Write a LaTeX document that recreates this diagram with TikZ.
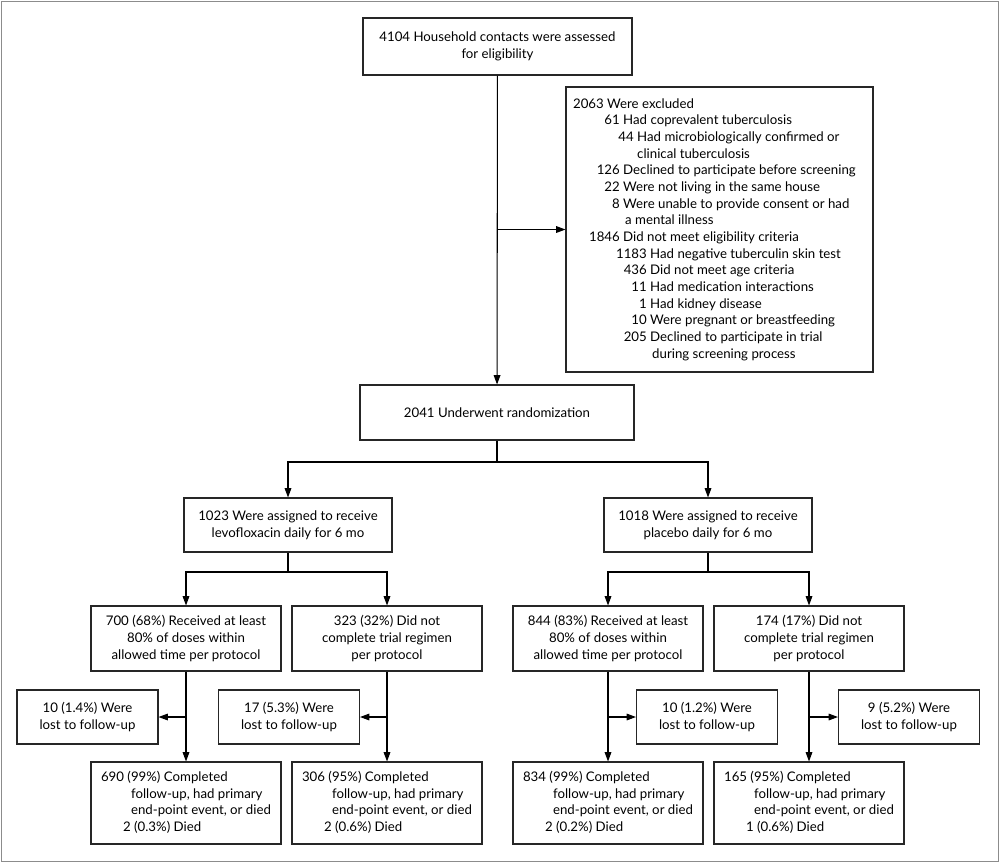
\documentclass[tikz,border=0pt]{standalone}
\usepackage{fontspec}
\setmainfont{Lato}
\usetikzlibrary{arrows.meta}
\tikzset{
	box/.style={
		rectangle,
		draw=black!85,
		line width=0.9pt,
		align=center,
		inner sep=1pt
	}
}

\begin{document}
\begin{tikzpicture}[x=0.03cm, y=-0.03cm, font=\fontsize{11.3}{14.2}\selectfont]
		\tikzstyle{connect}=[line width=0.9pt, -{Triangle[length=0.28cm, width=0.2cm]}]
		\tikzstyle{plain}=[line width=0.9pt]
		\useasboundingbox (0,0) rectangle (1000,863);
		\draw [black!45, line width=0.6pt] (1.5,1.5) rectangle (998.5,861.5);
		
		\node[box, minimum width={269*0.03cm}, minimum height={57*0.03cm}] (assess) at (497.5,46.5) {4104 Household contacts were assessed\\for eligibility};
		\node[box, minimum width={307*0.03cm}, minimum height={285*0.03cm}] (excl) at (719.5,229.5) {};
		\node[box, minimum width={274*0.03cm}, minimum height={55*0.03cm}] (rand) at (497,412.5) {2041 Underwent randomization};
		
		% exclusion lines
		\foreach \xs/\t [count=\i] in {
			607/{\llap{2063 }Were excluded},
			623/{\llap{61 }Had coprevalent tuberculosis},
			637/{\llap{44 }Had microbiologically confirmed or},
			637/{clinical tuberculosis},
			623/{\llap{126 }Declined to participate before screening},
			623/{\llap{22 }Were not living in the same house},
			623/{\llap{8 }Were unable to provide consent or had},
			625/{a mental illness},
			623/{\llap{1846 }Did not meet eligibility criteria},
			650/{\llap{1183 }Had negative tuberculin skin test},
			650/{\llap{436 }Did not meet age criteria},
			650/{\llap{11 }Had medication interactions},
			650/{\llap{1 }Had kidney disease},
			650/{\llap{10 }Were pregnant or breastfeeding},
			650/{\llap{205 }Declined to participate in trial},
			652/{during screening process}}
			\node[anchor=base west, inner sep=0pt] (ex\i) at (\xs,{108+(\i-1)*16.67}) {\t};
		
		\node[box, minimum width={208*0.03cm}, minimum height={54*0.03cm}] (levo) at (288,525) {1023 Were assigned to receive\\levofloxacin daily for 6 mo};
		\node[box, minimum width={208*0.03cm}, minimum height={54*0.03cm}] (plac) at (708,525) {1018 Were assigned to receive\\placebo daily for 6 mo};
		
		\node[box, minimum width={190*0.03cm}, minimum height={65*0.03cm}] (levoin) at (186,638.5) {700 (68\%) Received at least\\80\% of doses within\\allowed time per protocol};
		\node[box, minimum width={190*0.03cm}, minimum height={65*0.03cm}] (levoout) at (387,638.5) {323 (32\%) Did not\\complete trial regimen\\per protocol};
		\node[box, minimum width={190*0.03cm}, minimum height={65*0.03cm}] (placin) at (608,638.5) {844 (83\%) Received at least\\80\% of doses within\\allowed time per protocol};
		\node[box, minimum width={190*0.03cm}, minimum height={65*0.03cm}] (placout) at (809,638.5) {174 (17\%) Did not\\complete trial regimen\\per protocol};
		
		\node[box, minimum width={141*0.03cm}, minimum height={54*0.03cm}] (lost1) at (87.5,717) {10 (1.4\%) Were\\lost to follow-up};
		\node[box, minimum width={141*0.03cm}, minimum height={54*0.03cm}] (lost2) at (289,717) {17 (5.3\%) Were\\lost to follow-up};
		\node[box, minimum width={141*0.03cm}, minimum height={54*0.03cm}] (lost3) at (707,717) {10 (1.2\%) Were\\lost to follow-up};
		\node[box, minimum width={141*0.03cm}, minimum height={54*0.03cm}] (lost4) at (909,717) {9 (5.2\%) Were\\lost to follow-up};
		
		\node[box, minimum width={190*0.03cm}, minimum height={82*0.03cm}] (done1) at (186,803) {\begin{tabular}{@{}l@{}}690 (99\%) Completed\\\hspace{0.9cm}follow-up, had primary\\\hspace{0.9cm}end-point event, or died\\\hspace{0.66cm}2 (0.3\%) Died\end{tabular}};
		\node[box, minimum width={190*0.03cm}, minimum height={82*0.03cm}] (done2) at (387,803) {\begin{tabular}{@{}l@{}}306 (95\%) Completed\\\hspace{0.9cm}follow-up, had primary\\\hspace{0.9cm}end-point event, or died\\\hspace{0.66cm}2 (0.6\%) Died\end{tabular}};
		\node[box, minimum width={190*0.03cm}, minimum height={82*0.03cm}] (done3) at (608,803) {\begin{tabular}{@{}l@{}}834 (99\%) Completed\\\hspace{0.9cm}follow-up, had primary\\\hspace{0.9cm}end-point event, or died\\\hspace{0.66cm}2 (0.2\%) Died\end{tabular}};
		\node[box, minimum width={190*0.03cm}, minimum height={82*0.03cm}] (done4) at (809,803) {\begin{tabular}{@{}l@{}}165 (95\%) Completed\\\hspace{0.9cm}follow-up, had primary\\\hspace{0.9cm}end-point event, or died\\\hspace{0.66cm}1 (0.6\%) Died\end{tabular}};
		
		\coordinate (split0) at (assess.south |- excl.west);
		\coordinate (split1) at (497,462);
		\coordinate (split2) at (288,572);
		\coordinate (split3) at (708,572);
		
		\draw [connect] (assess) -- (rand);
		\draw [connect] (split0) -- (excl.west);
		\draw [plain] (rand) -- (split1);
		\draw [connect] (split1) -| (levo);
		\draw [connect] (split1) -| (plac);
		\draw [plain] (levo) -- (split2);
		\draw [connect] (split2) -| (levoin);
		\draw [connect] (split2) -| (levoout);
		\draw [plain] (plac) -- (split3);
		\draw [connect] (split3) -| (placin);
		\draw [connect] (split3) -| (placout);
		
		\draw [connect] (levoin) -- (done1);
		\draw [connect] (levoout) -- (done2);
		\draw [connect] (placin) -- (done3);
		\draw [connect] (placout) -- (done4);
		\draw [connect] (levoin.south |- lost1.east) -- (lost1.east);
		\draw [connect] (levoout.south |- lost2.east) -- (lost2.east);
		\draw [connect] (placin.south |- lost3.west) -- (lost3.west);
		\draw [connect] (placout.south |- lost4.west) -- (lost4.west);
		
		\end{tikzpicture}
\end{document}
